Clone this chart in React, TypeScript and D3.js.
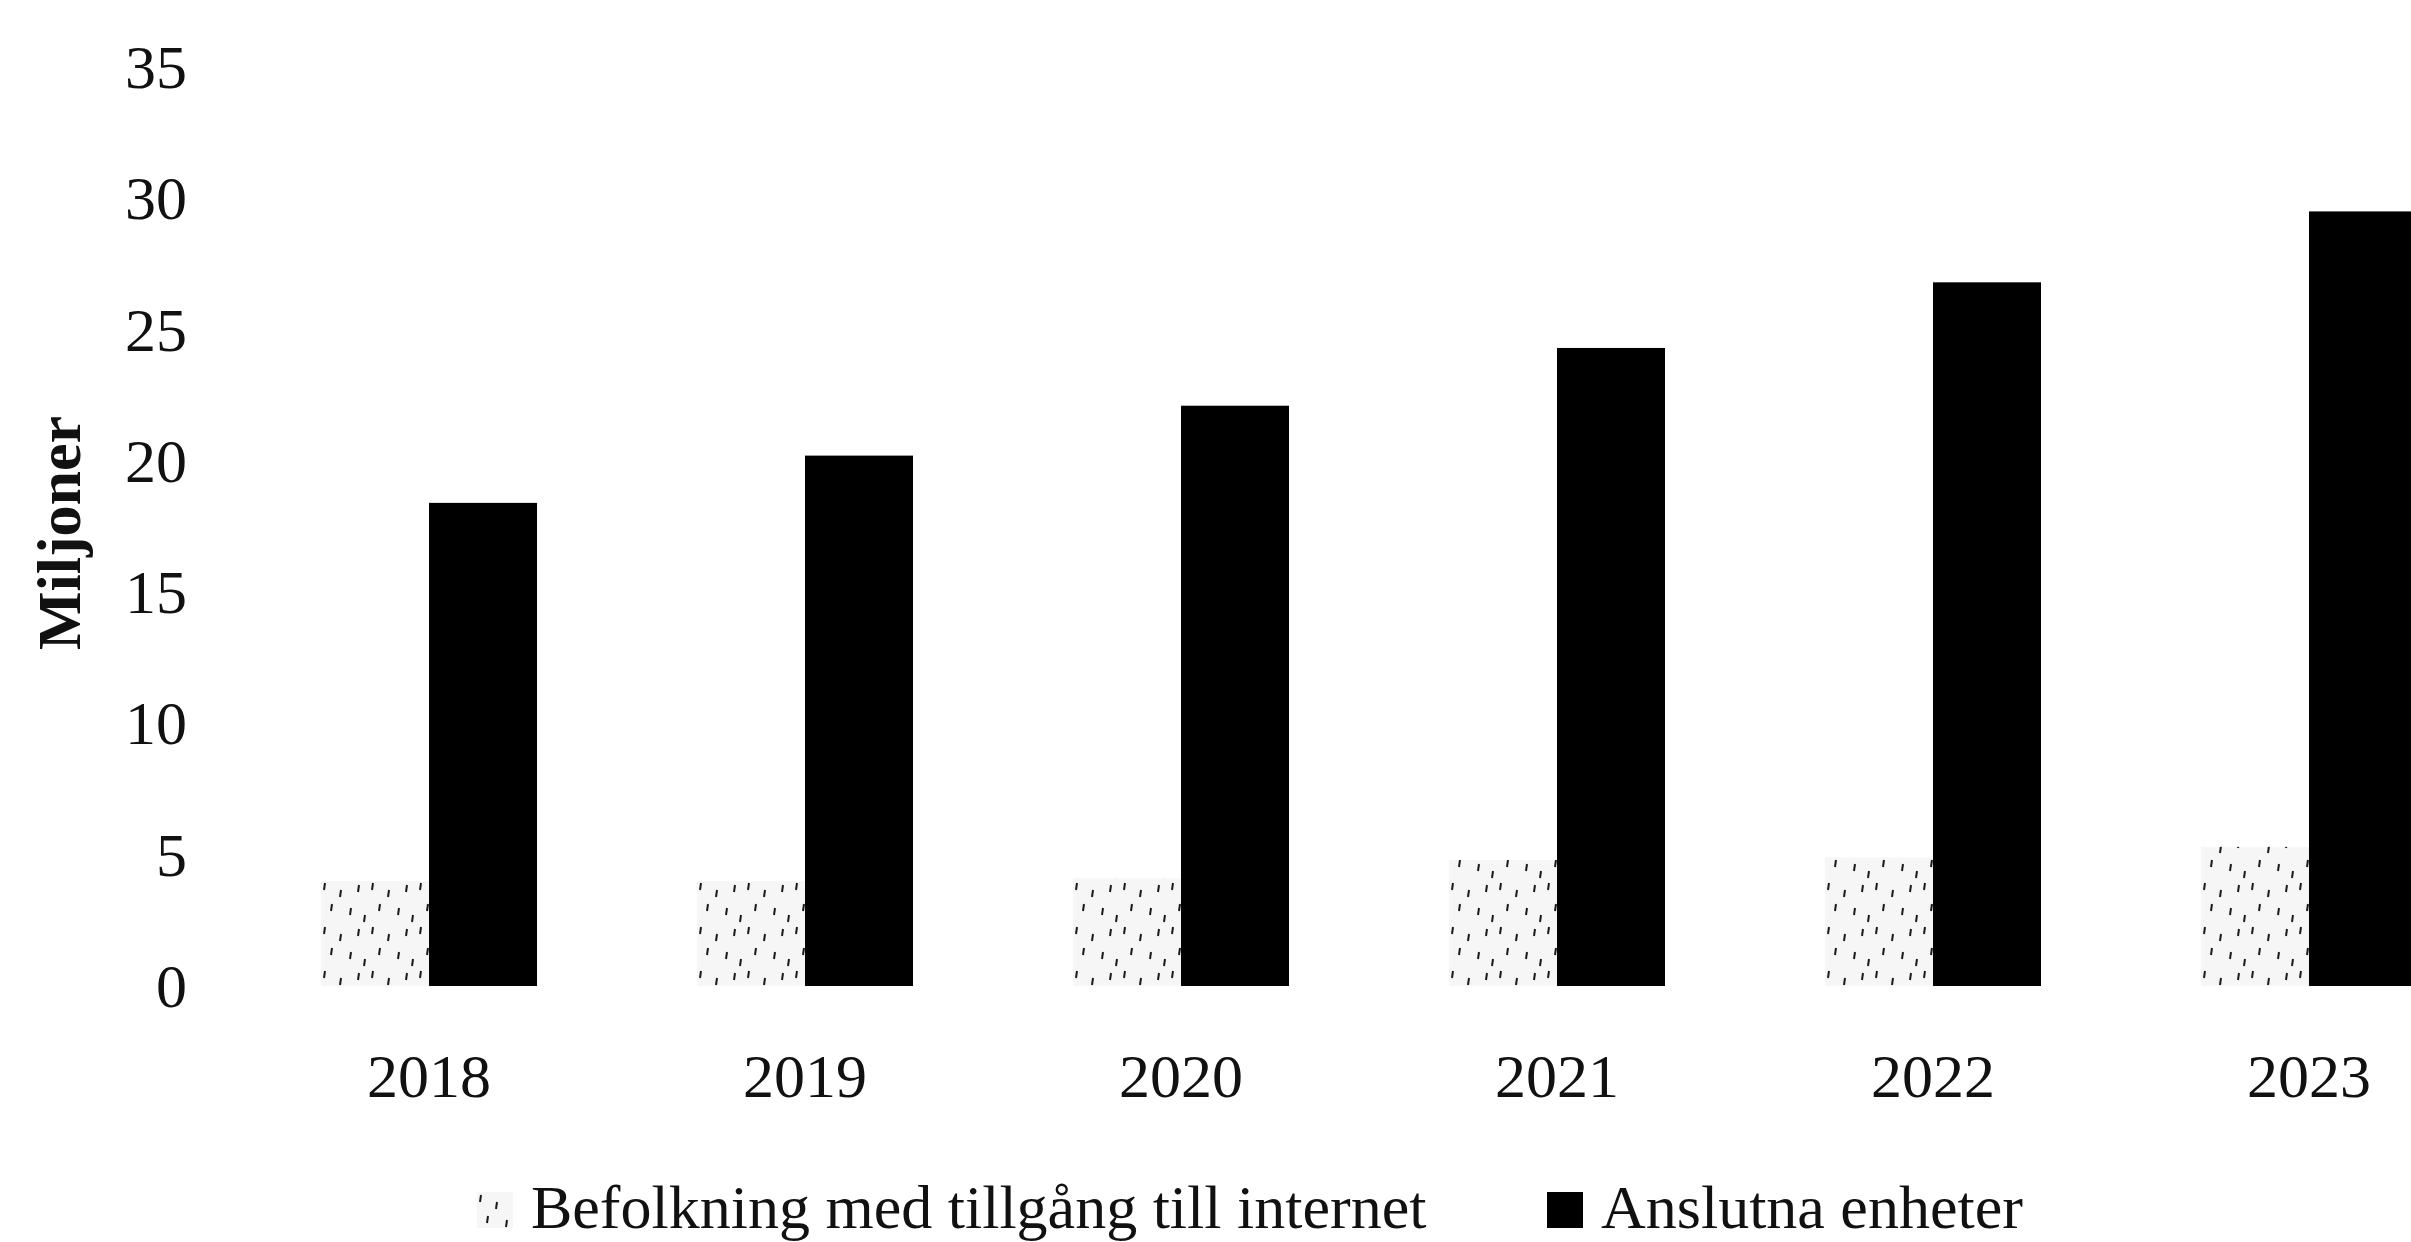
import React, { useEffect, useRef } from 'react';
import * as d3 from 'd3';

// Chart data (millions)
const years = ['2018', '2019', '2020', '2021', '2022', '2023'];
const seriesKeys = ['befolkning', 'enheter'];
const seriesLabels = ['Befolkning med tillgång till internet', 'Anslutna enheter'];
const befolkning = [4.0, 4.0, 4.1, 4.8, 4.9, 5.3];
const enheter = [18.4, 20.2, 22.1, 24.3, 26.8, 29.5];
const yTicks = [0, 5, 10, 15, 20, 25, 30, 35];
const yTitle = 'Miljoner';

const WIDTH = 2411;
const HEIGHT = 1242;
const FONT = '"Liberation Serif", "Times New Roman", serif';

const App: React.FC = () => {
  const svgRef = useRef<SVGSVGElement>(null);

  useEffect(() => {
    if (!svgRef.current) return;

    d3.select(svgRef.current).selectAll('*').remove();

    const svg = d3.select(svgRef.current)
      .attr('width', WIDTH)
      .attr('height', HEIGHT);

    // Sparse speckled pattern for the population series
    const defs = svg.append('defs');
    const pattern = defs.append('pattern')
      .attr('id', 'speckle')
      .attr('patternUnits', 'userSpaceOnUse')
      .attr('width', 48)
      .attr('height', 44);
    pattern.append('rect')
      .attr('width', 48)
      .attr('height', 44)
      .attr('fill', '#f6f6f6');
    const dashes: [number, number][] = [[4, 3], [20, 10], [38, 5], [11, 24], [30, 28], [44, 35]];
    dashes.forEach(([dx, dy]) => {
      pattern.append('line')
        .attr('x1', dx)
        .attr('y1', dy)
        .attr('x2', dx - 1)
        .attr('y2', dy + 7)
        .attr('stroke', '#1a1a1a')
        .attr('stroke-width', 2);
    });

    // Scales
    const y = d3.scaleLinear()
      .domain([0, 35])
      .range([986, 67]);

    const x = d3.scaleBand<string>()
      .domain(years)
      .range([241, 2497])
      .paddingInner(0.4255)
      .paddingOuter(0.2128);

    const xSub = d3.scaleBand<string>()
      .domain(seriesKeys)
      .range([0, x.bandwidth()])
      .padding(0);

    const fills: Record<string, string> = {
      befolkning: 'url(#speckle)',
      enheter: '#000000',
    };

    const rows = years.map((year, i) => ({
      year,
      values: [
        { key: 'befolkning', value: befolkning[i] },
        { key: 'enheter', value: enheter[i] },
      ],
    }));

    // Bars
    const groups = svg.append('g')
      .selectAll('g')
      .data(rows)
      .enter()
      .append('g')
      .attr('transform', d => `translate(${x(d.year)},0)`);

    groups.selectAll('rect')
      .data(d => d.values)
      .enter()
      .append('rect')
      .attr('x', d => xSub(d.key) as number)
      .attr('y', d => y(d.value))
      .attr('width', xSub.bandwidth())
      .attr('height', d => y(0) - y(d.value))
      .attr('fill', d => fills[d.key]);

    // Y tick labels (no axis line)
    svg.append('g')
      .selectAll('text')
      .data(yTicks)
      .enter()
      .append('text')
      .attr('x', 187)
      .attr('y', d => y(d) + 21)
      .attr('text-anchor', 'end')
      .attr('font-family', FONT)
      .attr('font-size', 62)
      .attr('fill', '#111')
      .text(d => d);

    // X labels
    svg.append('g')
      .selectAll('text')
      .data(years)
      .enter()
      .append('text')
      .attr('x', d => (x(d) as number) + x.bandwidth() / 2)
      .attr('y', 1097)
      .attr('text-anchor', 'middle')
      .attr('font-family', FONT)
      .attr('font-size', 62)
      .attr('fill', '#111')
      .text(d => d);

    // Y title
    svg.append('text')
      .attr('transform', 'translate(80, 533) rotate(-90)')
      .attr('text-anchor', 'middle')
      .attr('font-family', FONT)
      .attr('font-size', 62)
      .attr('font-weight', 'bold')
      .attr('fill', '#111')
      .text(yTitle);

    // Legend
    const legendX = [477, 1547];
    const legend = svg.append('g')
      .selectAll('g')
      .data(seriesKeys)
      .enter()
      .append('g')
      .attr('transform', (d, i) => `translate(${legendX[i]}, 1192)`);

    legend.append('rect')
      .attr('width', 36)
      .attr('height', 36)
      .attr('fill', d => fills[d]);

    legend.append('text')
      .attr('x', 54)
      .attr('y', 36)
      .attr('font-family', FONT)
      .attr('font-size', 62)
      .attr('fill', '#111')
      .text((d, i) => seriesLabels[i]);
  }, []);

  return (
    <div style={{ position: 'absolute', left: 0, top: 0, width: WIDTH, height: HEIGHT, overflow: 'hidden', background: '#fff' }}>
      <svg ref={svgRef} style={{ display: 'block' }} />
    </div>
  );
};

export default App;
